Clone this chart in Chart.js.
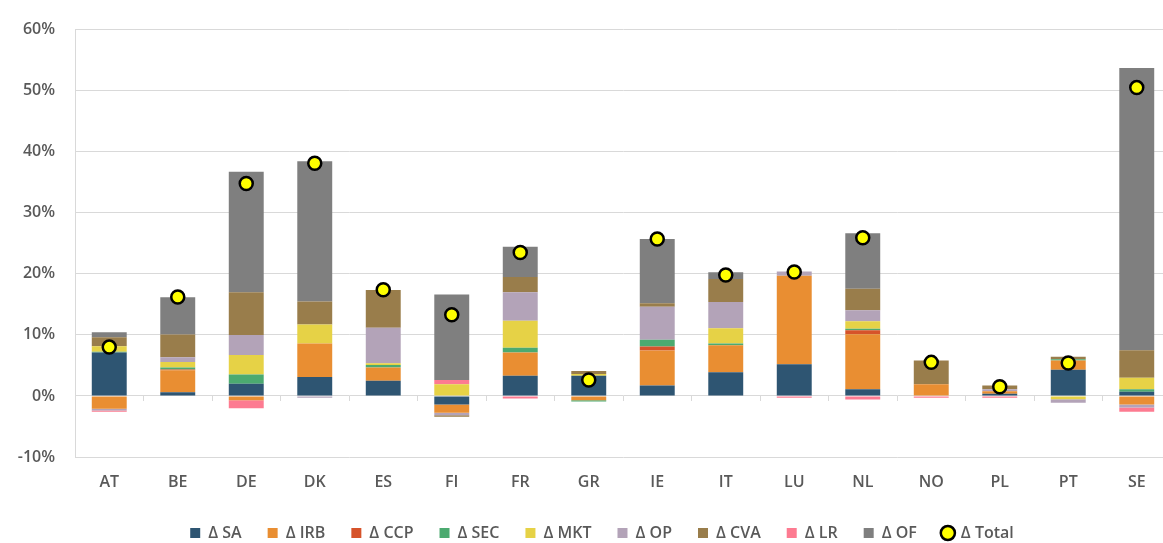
<!DOCTYPE html>
<html>
<head>
<meta charset="utf-8">
<script src="https://cdn.jsdelivr.net/npm/chart.js@4"></script>
<style>
    html, body { margin: 0; padding: 0; background: #fff; overflow: hidden; }
    #wrap { width: 1180px; height: 551px; }
</style>
</head>
<body>
<div id="wrap"><canvas id="rwaChart" width="1180" height="551"></canvas></div>
<script>
// Countries
const countries = ['AT', 'BE', 'DE', 'DK', 'ES', 'FI', 'FR', 'GR', 'IE', 'IT', 'LU', 'NL', 'NO', 'PL', 'PT', 'SE'];

// Contributions by risk type (% change)
const dSA  = [7.1, 0.6, 2.0, 3.1, 2.5, -1.4, 3.3, 3.3, 1.7, 3.9, 5.2, 1.1, 0, 0.35, 4.3, 0.7];
const dIRB = [-2.1, 3.6, -0.7, 5.5, 2.15, -1.35, 3.8, -0.7, 5.75, 4.4, 14.5, 9.0, 1.9, 0.4, 1.5, -1.4];
const dCCP = [0, 0.15, 0, 0, 0, 0, 0, 0, 0.65, 0, 0, 0.65, 0, 0, 0, 0];
const dSEC = [0.15, 0.3, 1.5, 0, 0.4, 0, 0.8, -0.2, 1.1, 0.3, 0, 0.25, 0, 0, 0.2, 0.4];
const dMKT = [0.9, 0.9, 3.2, 3.1, 0.3, 1.9, 4.4, 0.3, 0, 2.5, 0, 1.25, 0, 0, -0.55, 1.9];
const dOP  = [-0.3, 0.8, 3.3, -0.3, 5.8, -0.4, 4.7, 0, 5.4, 4.3, 0.7, 1.8, 0, 0.35, -0.55, -0.5];
const dCVA = [1.45, 3.7, 7.0, 3.75, 6.2, -0.25, 2.5, 0.5, 0.6, 3.75, 0, 3.5, 3.9, 0.6, 0.4, 4.5];
const dLR  = [-0.2, 0, -1.3, 0, 0, 0.7, -0.4, 0, 0, 0, -0.3, -0.6, -0.3, -0.3, 0, -0.7];
const dOF  = [0.85, 6.1, 19.7, 23.0, 0, 14.0, 4.95, 0, 10.5, 1.1, 0, 9.1, 0, 0, 0, 46.2];
const dTotal = [8.0, 16.2, 34.8, 38.1, 17.4, 13.3, 23.5, 2.6, 25.7, 19.8, 20.3, 25.9, 5.5, 1.5, 5.4, 50.5];

// Y axis ticks
const yMin = -10;
const yMax = 60;
const yStep = 10;

const textColor = '#595959';
const gridColor = '#d9d9d9';
const labelFont = { family: 'Open Sans', size: 16, weight: '600' };

function barSet(label, data, color) {
    return {
        type: 'bar',
        label: label,
        data: data,
        backgroundColor: color,
        borderWidth: 0,
        barPercentage: 0.51,
        categoryPercentage: 1.0,
        stack: 'parts',
        order: 1
    };
}

const datasets = [
    barSet('Δ SA', dSA, '#2E5572'),
    barSet('Δ IRB', dIRB, '#E98E32'),
    barSet('Δ CCP', dCCP, '#D6532A'),
    barSet('Δ SEC', dSEC, '#4CAA70'),
    barSet('Δ MKT', dMKT, '#E6D246'),
    barSet('Δ OP', dOP, '#B3A3B8'),
    barSet('Δ CVA', dCVA, '#997D4B'),
    barSet('Δ LR', dLR, '#FD7B91'),
    barSet('Δ OF', dOF, '#7F7F7F'),
    {
        type: 'line',
        label: 'Δ Total',
        data: dTotal,
        showLine: false,
        pointRadius: 6.5,
        pointBackgroundColor: '#FFFF00',
        pointBorderColor: '#000000',
        pointBorderWidth: 2.5,
        backgroundColor: '#FFFF00',
        borderColor: '#000000',
        stack: 'total',
        order: 0
    }
];

// let the y tick labels spill into the left padding (v4 clips them to the scale box)
const unclipY = {
    id: 'unclipY',
    afterLayout(chart) {
        chart.scales.y.left = 0;
    }
};

new Chart(document.getElementById('rwaChart'), {
    data: { labels: countries, datasets: datasets },
    plugins: [unclipY],
    options: {
        responsive: false,
        animation: false,
        layout: { padding: { left: 32, right: 8, top: 26, bottom: 0 } },
        plugins: {
            tooltip: { enabled: false },
            legend: {
                position: 'bottom',
                labels: {
                    usePointStyle: true,
                    boxWidth: 10,
                    boxHeight: 10,
                    padding: 26,
                    color: textColor,
                    font: labelFont,
                    sort: (a, b) => a.datasetIndex - b.datasetIndex,
                    generateLabels: (chart) => {
                        const items = Chart.defaults.plugins.legend.labels.generateLabels(chart);
                        items.forEach(item => {
                            const ds = chart.data.datasets[item.datasetIndex];
                            if (ds.type === 'line') {
                                item.pointStyle = 'circle';
                                item.fillStyle = '#FFFF00';
                                item.strokeStyle = '#000000';
                                item.lineWidth = 2.5;
                            } else {
                                item.pointStyle = 'rect';
                                item.lineWidth = 0;
                                item.strokeStyle = ds.backgroundColor;
                            }
                        });
                        return items;
                    }
                }
            }
        },
        scales: {
            x: {
                stacked: true,
                grid: { display: false },
                border: { display: false },
                ticks: { color: textColor, font: labelFont, padding: 8 },
                afterFit: (scale) => { scale.height = 42; }
            },
            // tick marks along the zero line
            x2: {
                type: 'category',
                labels: countries,
                position: { y: 0 },
                offset: true,
                grid: { offset: true, drawOnChartArea: false, drawTicks: true, tickLength: 5, color: gridColor },
                border: { display: false },
                ticks: { display: false }
            },
            y: {
                stacked: true,
                min: yMin,
                max: yMax,
                grid: { color: gridColor, lineWidth: 1, drawTicks: false },
                border: { display: true, color: gridColor },
                ticks: {
                    stepSize: yStep,
                    padding: 20,
                    color: textColor,
                    font: labelFont,
                    callback: (v) => v + '%'
                },
                afterFit: (scale) => { scale.width = 43; }
            }
        }
    }
});
</script>
</body>
</html>
